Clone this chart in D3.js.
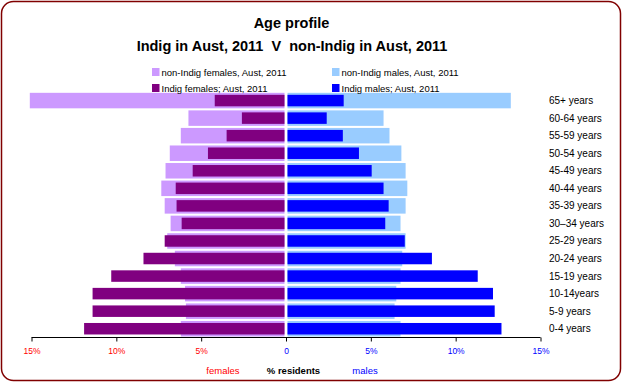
<!DOCTYPE html>
<html>
<head>
<meta charset="utf-8">
<script src="https://cdn.jsdelivr.net/npm/d3@7/dist/d3.min.js"></script>
<style>
  html, body { margin: 0; padding: 0; background: #fff; }
  svg { display: block; font-family: "Liberation Sans", Arial, sans-serif; }
</style>
</head>
<body>
<svg id="chart" width="622" height="382"></svg>
<script>
// ---- Data (percent of residents) ----
const categories = ["65+ years","60-64 years","55-59 years","50-54 years","45-49 years","40-44 years","35-39 years","30–34 years","25-29 years","20-24 years","15-19 years","10-14years","5-9 years","0-4 years"];
const nonIndigFemales = [15.1, 5.75, 6.2, 6.85, 7.1, 7.35, 7.15, 6.8, 7.0, 6.55, 6.2, 5.95, 5.9, 6.2];
const indigFemales    = [4.2, 2.6, 3.5, 4.6, 5.5, 6.5, 6.45, 6.15, 7.15, 8.4, 10.3, 11.4, 11.4, 11.9];
const nonIndigMales   = [13.25, 5.75, 6.1, 6.8, 7.05, 7.15, 7.05, 6.75, 7.05, 6.85, 6.75, 6.5, 6.4, 6.75];
const indigMales      = [3.4, 2.4, 3.35, 4.3, 5.05, 5.75, 6.05, 5.85, 7.0, 8.6, 11.3, 12.2, 12.3, 12.7];
const tickValues = [-15, -10, -5, 0, 5, 10, 15];
const tickLabels = ["15%", "10%", "5%", "0", "5%", "10%", "15%"];
const legendItems = [
  {label: "non-Indig females, Aust, 2011", color: "#CC99FF"},
  {label: "non-Indig males, Aust, 2011",   color: "#99CCFF"},
  {label: "Indig females; Aust, 2011",     color: "#800080"},
  {label: "Indig males; Aust, 2011",       color: "#0000FF"}
];

const svg = d3.select("#chart");

// Border
svg.append("rect").attr("x", 1.5).attr("y", 1.5).attr("width", 619).attr("height", 379)
  .attr("rx", 12).attr("ry", 12).attr("fill", "#fff").attr("stroke", "#800000").attr("stroke-width", 1.5);

// Title
const title = svg.append("text").attr("text-anchor", "middle").attr("font-weight", "bold")
  .attr("font-size", "14.5px").attr("fill", "#000").style("white-space", "pre");
title.append("tspan").attr("x", 291.5).attr("y", 28).text("Age profile");
title.append("tspan").attr("x", 292).attr("y", 51).text("Indig in Aust, 2011  V  non-Indig in Aust, 2011");

// Scales
const x = d3.scaleLinear().domain([-15, 15]).range([31.5, 540.5]);
const y = d3.scaleBand().domain(categories).range([91.8, 337.5]);
const step = y.step();
const lightH = 15.5, darkH = 11.5;
const gap = 1.5;
const x0 = x(0);

function drawSeries(vals, color, h, side) {
  svg.append("g").selectAll("rect").data(vals).join("rect")
    .attr("x", (d) => side < 0 ? x(-d) : x0 + gap)
    .attr("width", (d) => side < 0 ? (x0 - gap) - x(-d) : x(d) - (x0 + gap))
    .attr("y", (d, i) => y(categories[i]) + (step - h) / 2)
    .attr("height", h)
    .attr("fill", color);
}
drawSeries(nonIndigFemales, "#CC99FF", lightH, -1);
drawSeries(nonIndigMales, "#99CCFF", lightH, 1);
drawSeries(indigFemales, "#800080", darkH, -1);
drawSeries(indigMales, "#0000FF", darkH, 1);

// Category labels
svg.append("g").selectAll("text").data(categories).join("text")
  .attr("x", 549).attr("y", (d) => y(d) + step / 2 + 3.5)
  .attr("font-size", "10px").attr("fill", "#000").text((d) => d);

// X axis
const axisY = 337.5;
const axis = d3.axisBottom(x).tickValues(tickValues).tickSize(4).tickFormat((d, i) => tickLabels[i]);
const gAxis = svg.append("g").attr("transform", `translate(0,${axisY})`).call(axis);
gAxis.select(".domain").attr("stroke", "#000").attr("d", `M${x(-15)},0H${x(15)}`);
gAxis.selectAll(".tick line").attr("stroke", "#000");
gAxis.selectAll(".tick text")
  .attr("font-family", "'Liberation Sans', Arial, sans-serif")
  .attr("font-size", "8.5px").attr("dy", null).attr("y", 16.5)
  .attr("fill", (d) => d < 0 ? "#FF0000" : "#0000FF");

// Axis title pieces
svg.append("text").attr("x", 223).attr("y", 373.5).attr("text-anchor", "middle")
  .attr("font-size", "9.5px").attr("fill", "#FF0000").text("females");
svg.append("text").attr("x", 293.5).attr("y", 373.5).attr("text-anchor", "middle")
  .attr("font-size", "9.5px").attr("font-weight", "bold").attr("fill", "#000").text("% residents");
svg.append("text").attr("x", 365).attr("y", 373.5).attr("text-anchor", "middle")
  .attr("font-size", "9.5px").attr("fill", "#0000FF").text("males");

// Legend
const legendPos = [[152, 68], [332, 68], [152, 84], [332, 84]];
const lg = svg.append("g").selectAll("g").data(legendItems).join("g")
  .attr("transform", (d, i) => `translate(${legendPos[i][0]},${legendPos[i][1]})`);
lg.append("rect").attr("width", 7.5).attr("height", 8).attr("fill", (d) => d.color);
lg.append("text").attr("x", 9.5).attr("y", 7.8).attr("font-size", "9.5px").attr("fill", "#000").text((d) => d.label);
</script>
</body>
</html>
